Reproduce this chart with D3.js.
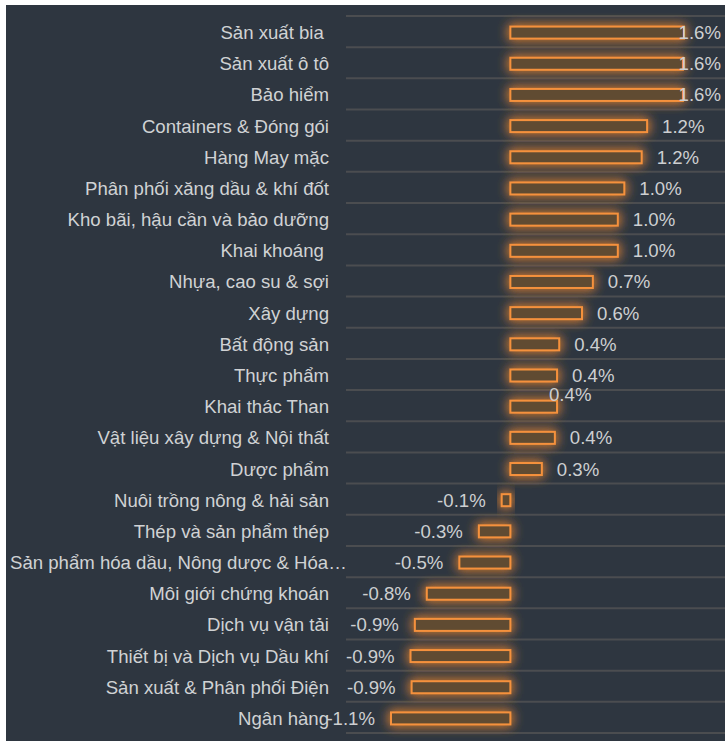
<!DOCTYPE html>
<html><head><meta charset="utf-8">
<script src="https://cdn.jsdelivr.net/npm/d3@7/dist/d3.min.js"></script>
<style>
html,body{margin:0;padding:0;background:#fff;}
svg{display:block;}
text{font-family:"Liberation Sans",Arial,sans-serif;}
</style></head>
<body>
<script>
const categories = ["Sản xuất bia ","Sản xuất ô tô","Bảo hiểm","Containers & Đóng gói","Hàng May mặc","Phân phối xăng dầu & khí đốt","Kho bãi, hậu cần và bảo dưỡng","Khai khoáng ","Nhựa, cao su & sợi","Xây dựng","Bất động sản","Thực phẩm","Khai thác Than","Vật liệu xây dựng & Nội thất","Dược phẩm","Nuôi trồng nông & hải sản","Thép và sản phẩm thép","Sản phẩm hóa dầu, Nông dược & Hóa chất","Môi giới chứng khoán","Dịch vụ vận tải","Thiết bị và Dịch vụ Dầu khí","Sản xuất & Phân phối Điện","Ngân hàng"];
const values = [1.6,1.59,1.59,1.26,1.21,1.05,0.99,0.99,0.76,0.66,0.45,0.43,0.43,0.41,0.29,-0.08,-0.29,-0.47,-0.77,-0.88,-0.92,-0.91,-1.10];
const valueLabels = ["1.6%","1.6%","1.6%","1.2%","1.2%","1.0%","1.0%","1.0%","0.7%","0.6%","0.4%","0.4%","0.4%","0.4%","0.3%","-0.1%","-0.3%","-0.5%","-0.8%","-0.9%","-0.9%","-0.9%","-1.1%"];

const W = 725, H = 741;
const svg = d3.select("body").append("svg").attr("width", W).attr("height", H);

const defs = svg.append("defs");
const f = defs.append("filter").attr("id","glow").attr("x","-50%").attr("y","-200%").attr("width","200%").attr("height","500%");
f.append("feGaussianBlur").attr("in","SourceGraphic").attr("stdDeviation",6).attr("result","b");
const ct = f.append("feComponentTransfer").attr("in","b").attr("result","b2");
ct.append("feFuncA").attr("type","linear").attr("slope",1.8);
const m = f.append("feMerge");
m.append("feMergeNode").attr("in","b2");
m.append("feMergeNode").attr("in","SourceGraphic");

svg.append("rect").attr("x",6).attr("y",5).attr("width",W-6).attr("height",H-5).attr("fill","#2e3640");

const x = d3.scaleLinear().domain([-1.1, 1.6]).range([391, 684]);
const y = d3.scaleBand().domain(categories).range([16, 733]).padding(0);

const bounds = categories.map(c => y(c)).concat([y.range()[1]]);
svg.append("g").selectAll("line").data(bounds).join("line")
  .attr("x1", 346).attr("x2", W).attr("y1", d => d).attr("y2", d => d)
  .attr("stroke", "#4b4d50").attr("stroke-width", 2);

const fs = 18.6;
const labelG = svg.append("g");
categories.forEach((c, i) => {
  const t = labelG.append("text")
    .attr("x", 329).attr("y", y(c) + y.bandwidth()/2 + 1)
    .attr("text-anchor", "end").attr("dominant-baseline", "central")
    .attr("fill", "#d0d2d4").attr("font-size", fs)
    .style("white-space", "pre").text(c);
  const maxW = 337;
  if (t.node().getComputedTextLength() > 319) {
    let s = c;
    while (s.length > 1) {
      s = s.slice(0, -1);
      t.text(s.trimEnd() + "…");
      if (t.node().getComputedTextLength() <= maxW) break;
    }
    t.attr("text-anchor", "start").attr("x", 10);
  }
});

const bh = 12;
svg.append("g").selectAll("rect").data(values).join("rect")
  .attr("x", d => x(Math.min(0, d)))
  .attr("width", d => Math.abs(x(d) - x(0)))
  .attr("y", (d, i) => y(categories[i]) + y.bandwidth()/2 + 1 - bh/2)
  .attr("height", bh)
  .attr("fill", "#604c33").attr("stroke", "#f5913c").attr("stroke-width", 2)
  .attr("filter", "url(#glow)");

const vg = svg.append("g");
values.forEach((v, i) => {
  const cy = y(categories[i]) + y.bandwidth()/2 + 1;
  const t = vg.append("text").attr("dominant-baseline", "central")
    .attr("fill", "#cdcfd1").attr("font-size", fs).text(valueLabels[i]);
  const w = t.node().getComputedTextLength();
  if (v >= 0) {
    let lx = x(v) + 15;
    if (lx + w > 721) lx = 721 - w;
    let ly = cy;
    if (i === 12) { lx = x(v) - 8; ly = cy - 12; }
    t.attr("x", lx).attr("y", ly).attr("text-anchor", "start");
  } else {
    t.attr("x", x(v) - 16).attr("y", cy).attr("text-anchor", "end");
  }
});
</script>
</body></html>
